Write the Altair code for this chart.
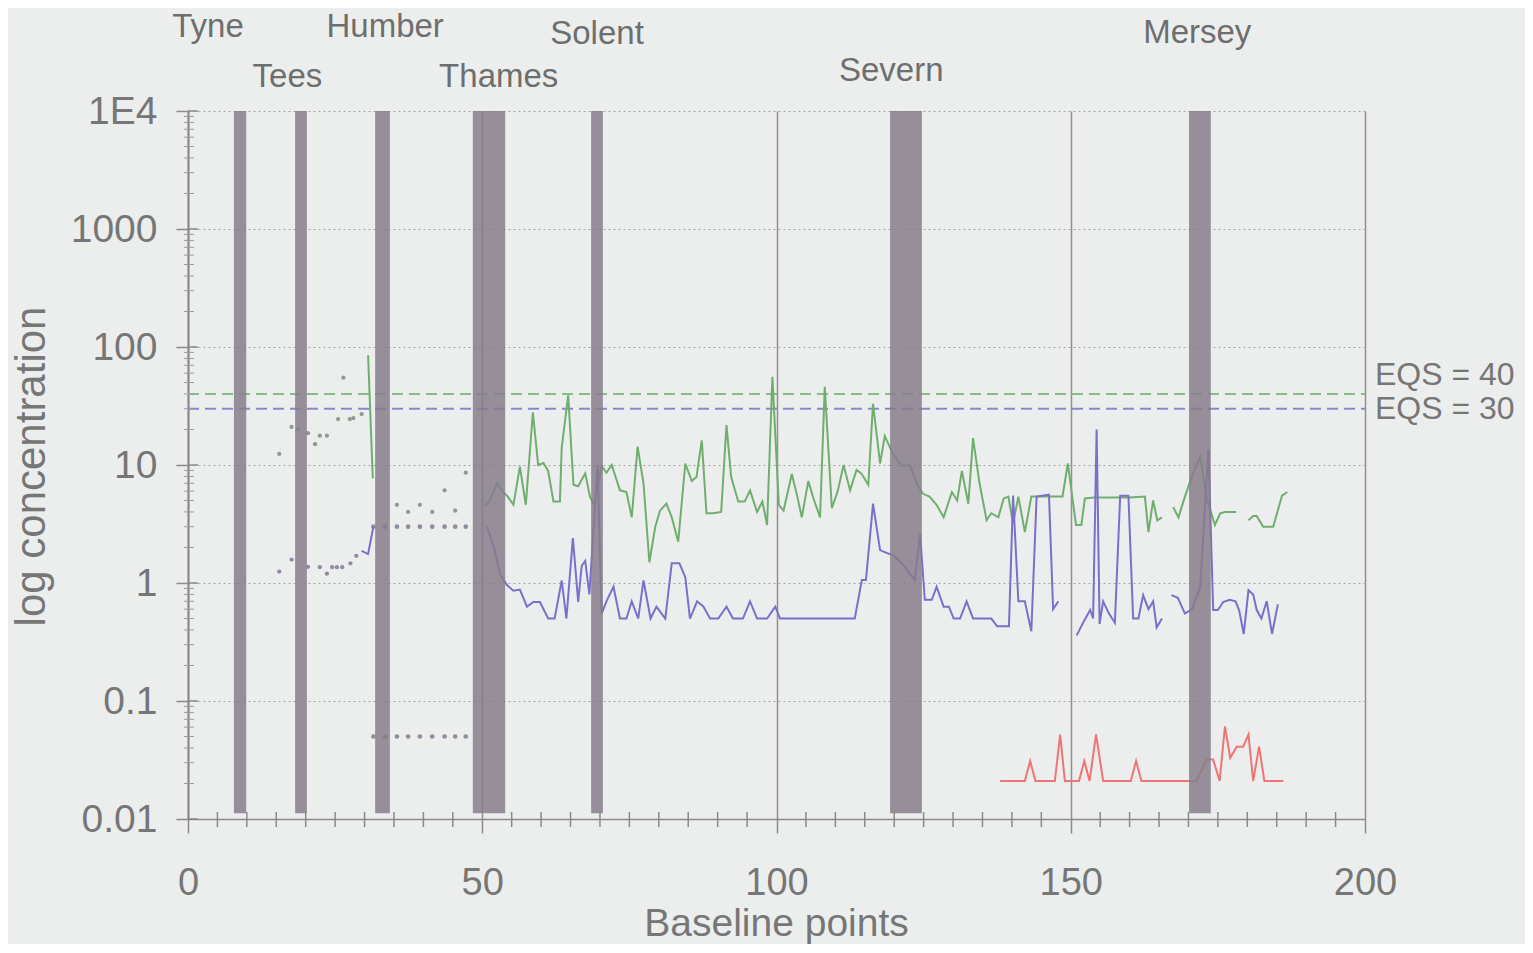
import altair as alt
import pandas as pd

# ---------------- axes ----------------
x_tick_values = [0, 50, 100, 150, 200]
x_tick_labels = ["0", "50", "100", "150", "200"]
x_minor_ticks = [v for v in range(5, 200, 5) if v % 50 != 0]
y_tick_values = [0.01, 0.1, 1, 10, 100, 1000, 10000]
y_tick_labels = ["0.01", "0.1", "1", "10", "100", "1000", "1E4"]
y_minor_ticks = [m * 10.0 ** k for k in range(-2, 4) for m in range(2, 10)]

# ---------------- estuaries ----------------
estuary_names = ["Tyne", "Tees", "Humber", "Thames", "Solent", "Severn", "Mersey"]
estuary_start = [7.8, 18.2, 31.8, 48.4, 68.5, 119.3, 170.1]
estuary_end = [9.9, 20.2, 34.3, 53.9, 70.5, 124.7, 173.8]
estuary_label_x = [3.4, 16.9, 33.5, 52.8, 69.5, 119.5, 171.5]
band_bottom = 0.0112
band_top = 10000

# ---------------- EQS ----------------
eqs_values = [40, 30]
eqs_labels = ["EQS = 40", "EQS = 30"]

# ---------------- series (None = gap) ----------------
green_x = [30.6, 31.4, None,
           50.5, 51.3, 52.5, 53.4, 54.2, 55.3, 56.4, 57.4, 58.6, 59.5, 60.4, 61.2, 62.1, 63.2, 63.5, 64.6,
           65.5, 66.3, 67.5, 68.3, 69.0, 70.3, 71.1, 72.0, 73.4, 74.5, 75.4, 76.4, 77.4, 78.4, 79.4, 80.2,
           81.3, 82.2, 83.3, 84.5, 85.6, 86.4, 87.3, 88.1, 89.2, 90.6, 91.5, 92.3, 93.5, 94.6, 95.5, 96.7,
           97.6, 98.4, 99.3, 100.4, 101.2, 102.6, 103.5, 104.3, 105.4, 106.4, 107.4, 108.2, 109.4, 110.4,
           111.4, 112.5, 113.6, 114.4, 115.6, 116.4, 117.6, 118.4, 119.6, 121.3, 122.7, 123.8, 124.9, 126.0,
           127.2, 128.4, 129.8, 130.7, 131.5, 132.6, 133.4, 134.5, 135.7, 136.5, 137.7, 138.6, 139.4, 140.2,
           141.1, 142.2, 143.3, 144.5, 145.6, 146.7, 147.8, 148.6, 149.5, 150.9, 151.8, 152.4, 154.0, 156.0,
           158.0, 160.0, 162.6, 163.2, 164.0, 164.7, 165.5, None,
           167.4, 168.3, 169.4, 170.6, 172.0, 173.2, 174.5, 175.4, 176.2, 177.2, 178.1, None,
           180.2, 181.0, 181.6, 182.7, 183.6, 184.4, 185.9, 186.8]
green_y = [85, 7.7, None,
           4.5, 5.0, 7.0, 6.0, 5.5, 4.6, 9.7, 4.6, 28, 10, 10.4, 8.9, 4.9, 4.9, 14, 39,
           6.8, 6.6, 8.5, 5.4, 4.6, 9.8, 8.6, 10, 6.1, 5.9, 3.6, 14.3, 7.0, 1.5, 3.0, 4.1,
           4.7, 3.6, 2.24, 10.3, 7.3, 7.9, 16.2, 3.9, 3.9, 4.0, 21.8, 7.9, 4.9, 4.9, 6.1, 4.0,
           4.9, 3.1, 56, 4.6, 4.1, 8.4, 5.5, 3.6, 7.3, 5.0, 3.6, 46, 4.3, 6.0,
           10, 6.1, 9.1, 8.5, 6.8, 33, 10.3, 17.6, 13, 9.8, 10, 7.0, 5.7, 5.4,
           4.6, 3.6, 5.9, 5.0, 8.9, 4.7, 16.9, 7.0, 3.4, 3.9, 3.6, 5.2, 5.4, 3.2,
           5.4, 2.7, 5.4, 5.4, 5.4, 5.4, 5.4, 5.4, 10.3, 3.1, 3.1, 5.2, 5.3, 5.3,
           5.3, 5.3, 5.4, 2.7, 5.0, 3.4, 3.6, None,
           4.4, 3.6, 5.4, 8.0, 11.7, 5.0, 3.1, 3.9, 4.0, 4.0, 4.0, None,
           3.4, 3.7, 3.7, 3.0, 3.0, 3.0, 5.5, 5.9]

purple_x = [29.5, 30.6, 31.5, None,
            50.8, 52.0, 53.0, 54.2, 55.3, 56.4, 57.6, 58.7, 59.8, 61.2, 62.3, 63.5, 64.3, 65.4, 66.3, 66.9,
            67.5, 68.2, 68.9, 69.6, 70.3, 71.1, 72.3, 73.4, 74.5, 75.4, 76.5, 77.4, 78.6, 79.6, 81.1, 82.2,
            83.5, 84.5, 85.3, 86.5, 87.6, 88.7, 90.1, 91.5, 92.6, 94.3, 95.5, 96.7, 98.4, 99.8, 100.6,
            113.3, 114.5, 115.2, 116.4, 117.6, 118.7, 120.0, 121.3, 122.4, 123.5, 124.4, 125.2, 126.4,
            127.2, 128.4, 129.3, 130.1, 131.2, 132.3, 133.4, 136.5, 137.5, 139.5, 140.2, 141.1, 142.2,
            143.3, 144.2, 146.3, 147.0, 147.9, None,
            151.0, 152.1, 153.3, 153.8, 154.4, 154.9, 155.5, 156.5, 157.5, 158.4, 159.8, 160.6, 161.5,
            162.3, 163.2, 164.0, 164.6, 165.5, None,
            167.1, 168.2, 169.4, 170.6, 172.0, 173.4, 174.2, 175.0, 175.9, 177.0, 178.0, 178.6, 179.4,
            180.2, 181.0, 181.6, 182.4, 183.3, 184.2, 185.2]
purple_y = [1.87, 1.76, 3.0, None,
            3.0, 2.0, 1.2, 0.96, 0.86, 0.88, 0.63, 0.69, 0.69, 0.5, 0.5, 1.05, 0.5, 2.4, 0.69, 1.4,
            1.54, 0.8, 2.8, 10, 0.55, 0.7, 0.93, 0.5, 0.5, 0.7, 0.5, 1.05, 0.5, 0.63, 0.5, 1.47,
            1.47, 1.12, 0.5, 0.7, 0.63, 0.5, 0.5, 0.63, 0.5, 0.5, 0.7, 0.5, 0.5, 0.63, 0.5,
            0.5, 1.06, 1.06, 4.7, 1.9, 1.8, 1.7, 1.47, 1.25, 1.06, 2.6, 0.72, 0.72,
            0.93, 0.63, 0.63, 0.5, 0.5, 0.7, 0.5, 0.5, 0.43, 0.43, 5.5, 0.7, 0.7,
            0.39, 5.4, 5.6, 0.6, 0.7, None,
            0.36, 0.46, 0.59, 0.5, 20, 0.45, 0.7, 0.55, 0.46, 5.5, 5.5, 0.5, 0.5,
            0.79, 0.6, 0.7, 0.42, 0.5, None,
            0.79, 0.75, 0.55, 0.6, 0.93, 13.6, 0.59, 0.59, 0.69, 0.72, 0.7, 0.59, 0.37,
            0.87, 0.8, 0.59, 0.5, 0.7, 0.37, 0.66]

red_x = [138.0, 142.2, 143.1, 144.0, 147.3, 148.2, 149.0, 151.4, 152.3, 153.2, 154.3, 155.5, 160.2,
         161.1, 162.0, 171.4, 173.1, 174.2, 175.3, 176.2, 177.1, 178.2, 179.3, 180.2, 181.0, 182.0,
         182.9, 186.1]
red_y = [0.021, 0.021, 0.031, 0.021, 0.021, 0.052, 0.021, 0.021, 0.031, 0.021, 0.052, 0.021, 0.021,
         0.031, 0.021, 0.021, 0.032, 0.032, 0.021, 0.061, 0.033, 0.041, 0.041, 0.052, 0.021, 0.041,
         0.021, 0.021]

green_dot_x = [15.5, 17.6, 18.7, 20.4, 21.6, 22.4, 23.6, 25.5, 26.4, 27.5, 28.1, 29.5,
               35.5, 37.4, 39.4, 41.5, 43.6, 45.4, 47.2]
green_dot_y = [12.4, 21, 20, 18.6, 15, 17.7, 17.7, 24.5, 55, 24.5, 25, 27,
               4.6, 4.0, 4.6, 4.0, 6.1, 4.1, 8.6]
purple_dot_x = [15.5, 17.6, 20.4, 22.4, 23.6, 24.5, 25.3, 26.2, 27.6, 28.6]
purple_dot_y = [1.25, 1.58, 1.37, 1.36, 1.2, 1.36, 1.36, 1.36, 1.47, 1.7]
limit_dot_x = [31.5, 33.5, 35.5, 37.4, 39.4, 41.5, 43.6, 45.4, 47.2]
limit_high = 3
limit_low = 0.05

# ---------------- styling ----------------
W, H = 1177, 708
FONT = "Liberation Sans"
TEXT = "#767676"
GREEN = "#6fae6f"
PURPLE = "#7b6fcb"
RED = "#ef7474"
BG = "#eceeed"


def segments(xs, ys, name):
    rows, seg = [], 0
    for x, y in zip(xs, ys):
        if x is None:
            seg += 1
            continue
        rows.append({"x": x, "y": y, "seg": f"{name}{seg}"})
    return pd.DataFrame(rows)


def label_expr(values, labels):
    parts = [f"datum.value == {v} ? '{l}'" for v, l in zip(values, labels)]
    return " : ".join(parts) + " : ''"


xscale = alt.Scale(domain=[0, 200], nice=False, zero=False)
yscale = alt.Scale(type="log", domain=[0.01, 10000], nice=False)

x_axis = alt.Axis(values=x_tick_values, labelExpr=label_expr(x_tick_values, x_tick_labels),
                  labelFont=FONT, labelFontSize=38, labelColor=TEXT, labelBaseline="middle",
                  labelPadding=50, labelFlush=False, tickSize=14, tickColor="#8a8a8a", tickWidth=1.5,
                  domainColor="#8a8a8a", domainWidth=1.5, grid=True, gridColor="#8f8f8f",
                  gridWidth=1.5, title="Baseline points", titleFont=FONT, titleFontSize=39,
                  titleFontWeight="normal", titleColor=TEXT, titleX=588, titleY=104,
                  titleAlign="center", titleBaseline="middle", labelOverlap=False)
y_axis = alt.Axis(values=y_tick_values, labelExpr=label_expr(y_tick_values, y_tick_labels),
                  labelFont=FONT, labelFontSize=39, labelColor=TEXT, labelBaseline="middle",
                  labelPadding=19, labelFlush=False, tickSize=12, tickColor="#8a8a8a", tickWidth=1.5,
                  domainColor="#8a8a8a", domainWidth=2, grid=True, gridColor="#a3a3a3",
                  gridDash=[2, 3], gridWidth=1, title="log concentration", titleFont=FONT,
                  titleFontSize=42, titleFontWeight="normal", titleColor=TEXT, titleAngle=-90,
                  titleX=-157, titleY=355, titleAlign="center", titleBaseline="middle",
                  labelOverlap=False)


def X(field):
    return alt.X(field, type="quantitative", scale=xscale, axis=x_axis)


def Y(field):
    return alt.Y(field, type="quantitative", scale=yscale, axis=y_axis)


# bands
bands_df = pd.DataFrame({"name": estuary_names, "x": estuary_start, "x2": estuary_end,
                         "y": [band_bottom] * len(estuary_names), "y2": [band_top] * len(estuary_names)})
bands = alt.Chart(bands_df).mark_rect(color="#857c89", opacity=0.84).encode(
    x=X("x"), x2="x2:Q", y=Y("y"), y2="y2:Q")

# EQS dashed lines
eqs_df = pd.DataFrame({"y": eqs_values, "label": eqs_labels, "x": [0, 0], "x2": [200, 200]})
eqs_green = alt.Chart(eqs_df.iloc[[0]]).mark_rule(color="#86bd86", strokeWidth=2, strokeDash=[11, 6]).encode(
    x=X("x"), x2="x2:Q", y=Y("y"))
eqs_purple = alt.Chart(eqs_df.iloc[[1]]).mark_rule(color="#8985d2", strokeWidth=2, strokeDash=[11, 6]).encode(
    x=X("x"), x2="x2:Q", y=Y("y"))


def eqs_text(idx, dy):
    return alt.Chart(eqs_df.iloc[[idx]]).mark_text(
        align="left", baseline="middle", dx=10, dy=dy, font=FONT, fontSize=32, color=TEXT
    ).encode(x=X("x2"), y=Y("y"), text="label:N")


def line_layer(xs, ys, name, color, width=2):
    return alt.Chart(segments(xs, ys, name)).mark_line(color=color, strokeWidth=width).encode(
        x=X("x"), y=Y("y"), detail="seg:N")


green_line = line_layer(green_x, green_y, "g", GREEN)
purple_line = line_layer(purple_x, purple_y, "p", PURPLE)
red_line = line_layer(red_x, red_y, "r", RED)


def dots(xs, ys, color, size):
    return alt.Chart(pd.DataFrame({"x": xs, "y": ys})).mark_circle(color=color, size=size, opacity=1).encode(
        x=X("x"), y=Y("y"))


green_dots = dots(green_dot_x, green_dot_y, "#8d9b8d", 18)
purple_dots = dots(purple_dot_x, purple_dot_y, "#8f8aa6", 18)
limit_hi_dots = dots(limit_dot_x, [limit_high] * len(limit_dot_x), "#918c9e", 22)
limit_lo_dots = dots(limit_dot_x, [limit_low] * len(limit_dot_x), "#918c9e", 22)

# minor ticks
xminor = alt.Chart(pd.DataFrame({"x": x_minor_ticks})).mark_rule(color="#8a8a8a", strokeWidth=1.5).encode(
    x=X("x"), y=alt.value(H - 7), y2=alt.value(H + 8))
yminor = alt.Chart(pd.DataFrame({"y": y_minor_ticks})).mark_rule(color="#9a9a9a", strokeWidth=1).encode(
    y=Y("y"), x=alt.value(-4), x2=alt.value(6))
ymajor_in = alt.Chart(pd.DataFrame({"y": y_tick_values})).mark_rule(color="#8a8a8a", strokeWidth=1.5).encode(
    y=Y("y"), x=alt.value(0), x2=alt.value(10))

# estuary labels
lab_df = pd.DataFrame({"name": estuary_names, "x": estuary_label_x})
label_dy = {"Tyne": -84, "Humber": -84, "Solent": -77, "Mersey": -78,
            "Tees": -34, "Thames": -34, "Severn": -40}


def est_text(names, dy):
    return alt.Chart(lab_df[lab_df["name"].isin(names)]).mark_text(
        align="center", baseline="middle", dy=dy, font=FONT, fontSize=33, color="#6e6e6e"
    ).encode(x=X("x"),
             y=alt.Y(datum=band_top, type="quantitative", scale=yscale, axis=y_axis),
             text="name:N")


groups = {}
for n, d in label_dy.items():
    groups.setdefault(d, []).append(n)
est_layers = [est_text(ns, d) for d, ns in groups.items()]

chart = alt.layer(
    eqs_green, eqs_purple, green_dots, purple_dots, limit_hi_dots, limit_lo_dots,
    green_line, purple_line, red_line, bands,
    xminor, yminor, ymajor_in, eqs_text(0, -19), eqs_text(1, 0), *est_layers,
).properties(
    width=W, height=H,
    padding={"left": 180, "top": 103, "right": 160, "bottom": 125},
    autosize=alt.AutoSizeParams(type="none"),
    background=BG,
).configure_view(stroke=None)

chart.save("out.html", embed_options={"renderer": "svg", "actions": False})
